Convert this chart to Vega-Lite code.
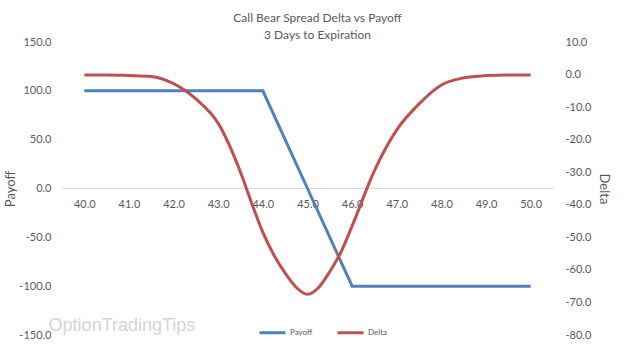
{
  "$schema": "https://vega.github.io/schema/vega-lite/v6.json",
  "width": 491,
  "height": 293,
  "autosize": {"type": "none"},
  "padding": {"left": 62, "top": 42, "right": 87, "bottom": 17},
  "background": "white",
  "config": {
    "view": {"stroke": null},
    "font": "Lato",
    "axis": {"labelColor": "#595959", "titleColor": "#595959", "labelFont": "Lato", "titleFont": "Lato", "ticks": false, "grid": false, "domain": false, "labelFontSize": 11, "titleFontSize": 13, "titleFontWeight": "normal", "labelExpr": "replace(datum.label, '\u2212', '-')"}
  },
  "title": {
    "text": ["Call Bear Spread Delta vs Payoff", "3 Days to Expiration"],
    "fontSize": 12,
    "fontWeight": "normal",
    "color": "#595959",
    "font": "Lato",
    "lineHeight": 17,
    "anchor": "middle",
    "dx": 10,
    "offset": -6
  },
  "datasets": {
    "payoff": [
      {"price": 40, "payoff": 100}, {"price": 41, "payoff": 100}, {"price": 42, "payoff": 100},
      {"price": 43, "payoff": 100}, {"price": 44, "payoff": 100}, {"price": 45, "payoff": 0},
      {"price": 46, "payoff": -100}, {"price": 47, "payoff": -100}, {"price": 48, "payoff": -100},
      {"price": 49, "payoff": -100}, {"price": 50, "payoff": -100}
    ],
    "delta": [
      {"price": 40, "delta": -0.1}, {"price": 40.5, "delta": -0.1}, {"price": 41, "delta": -0.3},
      {"price": 41.5, "delta": -0.6}, {"price": 42, "delta": -2.8}, {"price": 42.5, "delta": -7.5},
      {"price": 43, "delta": -15}, {"price": 43.5, "delta": -30}, {"price": 43.75, "delta": -39.5},
      {"price": 44, "delta": -48.5}, {"price": 44.25, "delta": -55.5}, {"price": 44.5, "delta": -61},
      {"price": 44.75, "delta": -65.4}, {"price": 45, "delta": -67.5}, {"price": 45.25, "delta": -65.4},
      {"price": 45.5, "delta": -60.5}, {"price": 45.75, "delta": -54.5}, {"price": 46, "delta": -46.5},
      {"price": 46.5, "delta": -29.5}, {"price": 47, "delta": -17}, {"price": 47.5, "delta": -9},
      {"price": 48, "delta": -3.2}, {"price": 48.5, "delta": -1.0}, {"price": 49, "delta": -0.3},
      {"price": 49.5, "delta": -0.1}, {"price": 50, "delta": -0.1}
    ],
    "mark": [{"price": 39.2, "payoff": -141, "label": "OptionTradingTips"}]
  },
  "layer": [
    {
      "data": {"name": "payoff"},
      "mark": {"type": "line", "strokeWidth": 3},
      "encoding": {
        "x": {"field": "price", "type": "quantitative", "scale": {"domain": [39.5, 50.5], "nice": false, "zero": false},
          "axis": {"values": [40, 41, 42, 43, 44, 45, 46, 47, 48, 49, 50], "format": ".1f", "title": null, "offset": -147, "domain": true, "domainColor": "#d9d9d9", "domainWidth": 1, "labelPadding": 10}},
        "y": {"field": "payoff", "type": "quantitative", "scale": {"domain": [-150, 150], "nice": false},
          "axis": {"values": [-150, -100, -50, 0, 50, 100, 150], "format": ".1f", "title": "Payoff", "labelPadding": 11, "titlePadding": 1}},
        "color": {"datum": "Payoff", "type": "nominal",
          "scale": {"domain": ["Payoff", "Delta"], "range": ["#4F81BD", "#C0504D"]},
          "legend": {"title": null, "orient": "none", "legendX": 196, "legendY": 276, "direction": "horizontal", "symbolType": "stroke", "symbolSize": 676, "symbolStrokeWidth": 3, "labelFontSize": 8, "labelColor": "#595959", "labelOffset": 3, "columnPadding": 18, "labelFont": "Lato"}}
      }
    },
    {
      "data": {"name": "delta"},
      "mark": {"type": "line", "strokeWidth": 3, "interpolate": "monotone"},
      "encoding": {
        "x": {"field": "price", "type": "quantitative"},
        "y": {"field": "delta", "type": "quantitative", "scale": {"domain": [-80, 10], "nice": false},
          "axis": {"orient": "right", "values": [-80, -70, -60, -50, -40, -30, -20, -10, 0, 10], "format": ".1f", "title": "Delta", "labelPadding": 12, "titlePadding": 6}},
        "color": {"datum": "Delta", "type": "nominal"}
      }
    },
    {
      "data": {"name": "mark"},
      "mark": {"type": "text", "align": "left", "baseline": "middle", "fontSize": 18, "font": "Liberation Sans", "color": "#d4d4d4"},
      "encoding": {
        "x": {"field": "price", "type": "quantitative"},
        "y": {"field": "payoff", "type": "quantitative", "scale": {"domain": [-150, 150], "nice": false}, "axis": null},
        "text": {"field": "label"}
      }
    }
  ],
  "resolve": {"scale": {"y": "independent"}}
}
